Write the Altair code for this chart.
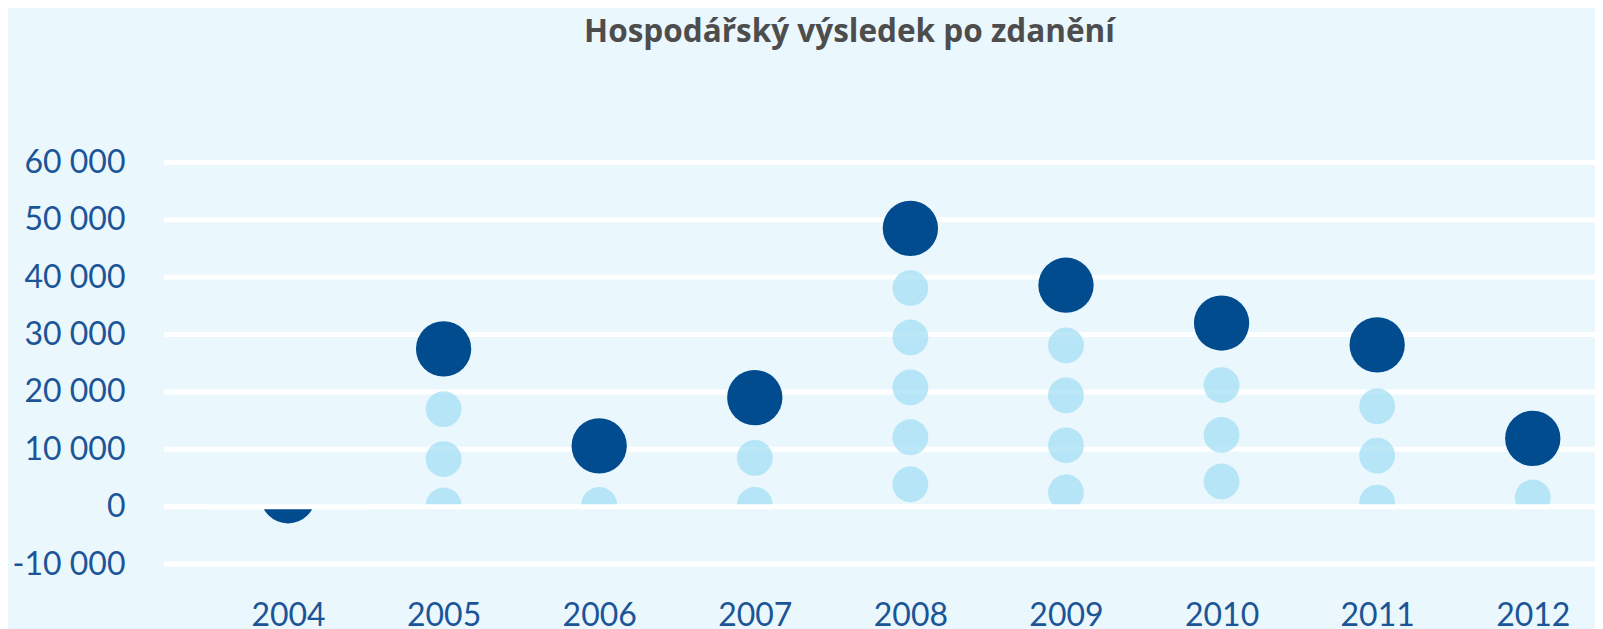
import altair as alt
import pandas as pd

# ---- data ----
title_text = "Hospodářský výsledek po zdanění"
years = [2004, 2005, 2006, 2007, 2008, 2009, 2010, 2011, 2012]
# centre of the big dark dot for every year
dark_y = [1900, 27500, 10600, 19000, 48500, 38600, 32000, 28200, 11900]
# years whose result is negative (symbol clipped above zero)
negative_years = [2004]
# small light dots (stacked pictogram)
light_years = [2005, 2005, 2005,
               2006,
               2007, 2007,
               2008, 2008, 2008, 2008, 2008,
               2009, 2009, 2009, 2009,
               2010, 2010, 2010,
               2011, 2011, 2011,
               2012]
light_y = [17000, 8300, 200,
           300,
           8500, 300,
           38100, 29500, 20800, 12100, 3900,
           28100, 19400, 10700, 2500,
           21200, 12500, 4400,
           17500, 8900, 700,
           1600]
y_ticks = [-10000, 0, 10000, 20000, 30000, 40000, 50000, 60000]

# ---- styling ----
BG = "#EAF7FD"
DARK = "#004C8F"
LIGHT = "#A6DFF4"
LABEL = "#1B5597"
FONT = "Lato"

dark_df = pd.DataFrame({"year": years, "v": dark_y})
light_df = pd.DataFrame({"year": light_years, "v": light_y})
grid_df = pd.DataFrame({"v": y_ticks})
zero_df = pd.DataFrame({"v": [0]})
cover_df = pd.DataFrame({
    "x0": [y - 0.5 for y in years],
    "x1": [y + 0.5 for y in years],
    "y0": [0] * len(years),
    "y1": [8000 if y in negative_years else -6000 for y in years],
})

xscale = alt.Scale(domain=[2003.203, 2012.4], nice=False, zero=False)
yscale = alt.Scale(domain=[-14000, 66000], nice=False, zero=False)

yaxis = alt.Axis(
    values=y_ticks,
    labelExpr="(datum.value < 0 ? '-' : '') + replace(format(abs(datum.value), ','), regexp(',', 'g'), ' ')",
    labelFont=FONT, labelFontSize=32, labelColor=LABEL, labelPadding=39,
    ticks=False, tickSize=0, domain=False, grid=False, title=None,
)
xaxis = alt.Axis(
    values=years, format="d",
    labelFont=FONT, labelFontSize=32, labelColor=LABEL, labelPadding=13,
    ticks=False, tickSize=0, domain=False, grid=False, title=None,
    labelFlush=False, labelOverlap=False,
)

grid = alt.Chart(grid_df).mark_rule(color="white", strokeWidth=5).encode(
    y=alt.Y("v:Q", scale=yscale, axis=yaxis)
)
light = alt.Chart(light_df).mark_circle(color=LIGHT, opacity=0.76, size=1282, strokeWidth=0).encode(
    x=alt.X("year:Q", scale=xscale, axis=xaxis),
    y=alt.Y("v:Q", scale=yscale, axis=yaxis),
)
dark = alt.Chart(dark_df).mark_circle(color=DARK, opacity=1, size=3058, strokeWidth=0).encode(
    x=alt.X("year:Q", scale=xscale, axis=xaxis),
    y=alt.Y("v:Q", scale=yscale, axis=yaxis),
)
cover = alt.Chart(cover_df).mark_rect(color=BG, opacity=1).encode(
    x=alt.X("x0:Q", scale=xscale, axis=xaxis), x2="x1",
    y=alt.Y("y0:Q", scale=yscale, axis=yaxis), y2="y1",
)
zero = alt.Chart(zero_df).mark_rule(color="white", strokeWidth=5).encode(
    y=alt.Y("v:Q", scale=yscale, axis=yaxis)
)

chart = alt.layer(grid, light, dark, cover, zero).properties(
    width=1431,
    height=459,
    title=alt.TitleParams(
        title_text, font="Open Sans", fontSize=31.5, fontWeight="bold", color="#4D4D4D",
        anchor="middle", dx=-30, offset=80,
    ),
    autosize=alt.AutoSizeParams(type="none"),
    padding={"left": 156, "top": 120, "right": 0, "bottom": 42},
    background=BG,
).configure_view(stroke=None)

chart.save("out.html", embed_options={"renderer": "svg", "actions": False})
